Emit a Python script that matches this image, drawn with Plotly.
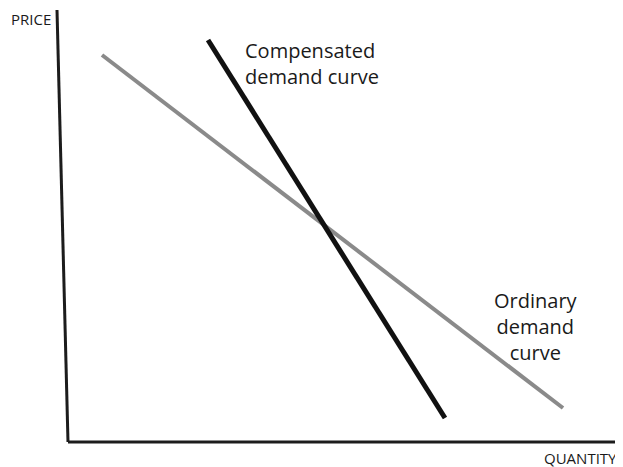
import plotly.graph_objects as go

# Conceptual data (origin at the axis corner; quantity to the right, price upward)
ordinary_q = [34, 495]
ordinary_p = [387, 34]
compensated_q = [140, 377]
compensated_p = [402, 24]
price_axis_q = [-11, 0]
price_axis_p = [432, 0]
qty_axis_q = [0, 548]
qty_axis_p = [0, 0]

labels_comp = ["Compensated", "demand curve"]
labels_ord = ["Ordinary", "demand", "curve"]

PAGE_OFF = 8  # default body margin of the page
W, H = 623 - PAGE_OFF, 467 - PAGE_OFF
X0, Y0 = 68 - PAGE_OFF, 442 - PAGE_OFF  # figure-pixel position of the origin


def px_x(px):
    return px - PAGE_OFF - X0


def px_y(py):
    return Y0 - (py - PAGE_OFF)


fig = go.Figure()

fig.add_trace(go.Scatter(x=ordinary_q, y=ordinary_p, mode="lines",
                         line=dict(color="#8a8a8a", width=4), hoverinfo="skip"))
fig.add_trace(go.Scatter(x=compensated_q, y=compensated_p, mode="lines",
                         line=dict(color="#111111", width=5), hoverinfo="skip"))
fig.add_trace(go.Scatter(x=price_axis_q, y=price_axis_p, mode="lines",
                         line=dict(color="#1c1c1c", width=3), hoverinfo="skip"))
fig.add_trace(go.Scatter(x=qty_axis_q, y=qty_axis_p, mode="lines",
                         line=dict(color="#1c1c1c", width=3), hoverinfo="skip"))

font_big = dict(family="Open Sans", size=20, color="#1a1a1a")
font_small = dict(family="Open Sans", size=15, color="#1a1a1a")

anns = [
    dict(x=px_x(243), y=px_y(63), text="<br>".join(labels_comp), showarrow=False,
         xanchor="left", yanchor="middle", align="left", font=font_big),
    dict(x=px_x(536), y=px_y(326), text="<br>".join(labels_ord), showarrow=False,
         xanchor="center", yanchor="middle", align="center", font=font_big),
    dict(x=px_x(9), y=px_y(19), text="PRICE", showarrow=False,
         xanchor="left", yanchor="middle", font=font_small),
    dict(x=px_x(619), y=px_y(458), text="QUANTITY", showarrow=False,
         xanchor="right", yanchor="middle", font=font_small),
]

fig.update_layout(
    width=W, height=H,
    margin=dict(l=0, r=0, t=0, b=0),
    paper_bgcolor="white", plot_bgcolor="white",
    showlegend=False,
    annotations=anns,
    xaxis=dict(range=[-X0, W - X0], visible=False, fixedrange=True),
    yaxis=dict(range=[Y0 - H, Y0], visible=False, fixedrange=True),
)

fig.write_html("out.html")
